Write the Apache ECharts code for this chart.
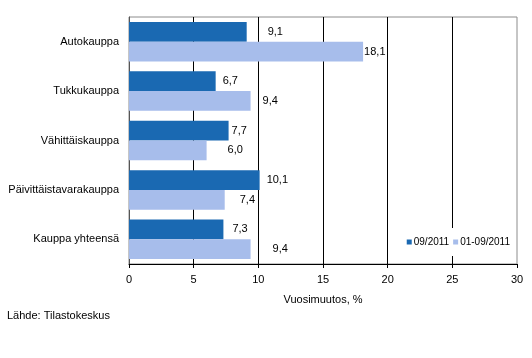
<!DOCTYPE html>
<html>
<head>
<meta charset="utf-8">
<script src="https://cdn.jsdelivr.net/npm/echarts@6/dist/echarts.min.js"></script>
<style>
html,body{margin:0;padding:0;background:#fff;}
#main{width:532px;height:358px;}
</style>
</head>
<body>
<div id="main"></div>
<script>
var categories = ['Autokauppa', 'Tukkukauppa', 'Vähittäiskauppa', 'Päivittäistavarakauppa', 'Kauppa yhteensä'];
var seriesNames = ['09/2011', '01-09/2011'];
var monthValues = [9.1, 6.7, 7.7, 10.1, 7.3];
var ytdValues = [18.1, 9.4, 6.0, 7.4, 9.4];
var xTicks = [0, 5, 10, 15, 20, 25, 30];
var axisTitle = 'Vuosimuutos, %';
var sourceText = 'Lähde: Tilastokeskus';

// label horizontal offsets (px) as placed in the original
var monthLabelGap = [21, 7, 3, 7, 9];
var ytdLabelGap = [1, 12, 21, 15, 22];

function fmt(v) { return v.toFixed(1).replace('.', ','); }
function build(vals, gaps) {
  return vals.map(function (v, i) {
    return { value: v, label: { offset: [gaps[i], 0] } };
  });
}

var font = 'Liberation Sans, Arial, sans-serif';
var chart = echarts.init(document.getElementById('main'), null, { renderer: 'canvas' });
chart.setOption({
  animation: false,
  backgroundColor: '#fff',
  textStyle: { fontFamily: font },
  grid: {
    left: 129, right: 15, top: 17, bottom: 94,
    show: true, borderColor: '#8c8c8c', borderWidth: 1
  },
  legend: {
    right: 18, bottom: 102,
    itemWidth: 5, itemHeight: 5, itemGap: 4,
    icon: 'rect',
    backgroundColor: '#fff',
    padding: [9, 4, 9, 4],
    textStyle: { fontSize: 10, color: '#000', fontFamily: font, padding: [0, 0, 0, -3] },
    data: seriesNames
  },
  xAxis: {
    type: 'value', min: xTicks[0], max: xTicks[xTicks.length - 1], interval: 5,
    name: axisTitle, nameLocation: 'middle', nameGap: 30,
    nameTextStyle: { fontSize: 11, color: '#000', fontFamily: font },
    axisLine: { show: true, lineStyle: { color: '#000', width: 1 } },
    axisTick: { show: true, length: 4, lineStyle: { color: '#000' } },
    axisLabel: { fontSize: 11, color: '#000', margin: 10, fontFamily: font },
    splitLine: { show: true, showMinLine: false, showMaxLine: false, lineStyle: { color: '#000', width: 1 } }
  },
  yAxis: {
    type: 'category', data: categories, inverse: true,
    axisLine: { show: true, lineStyle: { color: '#555', width: 1 } },
    axisTick: { show: false },
    axisLabel: { fontSize: 11, color: '#000', margin: 10, fontFamily: font },
    splitLine: { show: false }
  },
  series: [
    {
      name: seriesNames[0], type: 'bar', data: build(monthValues, monthLabelGap),
      itemStyle: { color: '#1A69B2' },
      barGap: '0%', barCategoryGap: '20%',
      label: { show: true, position: 'right', distance: 0, fontSize: 11, color: '#000', fontFamily: font,
        formatter: function (p) { return fmt(p.value); } }
    },
    {
      name: seriesNames[1], type: 'bar', data: build(ytdValues, ytdLabelGap),
      itemStyle: { color: '#A7BDEB' },
      barGap: '0%', barCategoryGap: '20%',
      label: { show: true, position: 'right', distance: 0, fontSize: 11, color: '#000', fontFamily: font,
        formatter: function (p) { return fmt(p.value); } }
    }
  ],
  graphic: [
    { type: 'text', left: 7, top: 310, style: { text: sourceText, fontSize: 11, fill: '#000', fontFamily: font } }
  ]
});
</script>
</body>
</html>
